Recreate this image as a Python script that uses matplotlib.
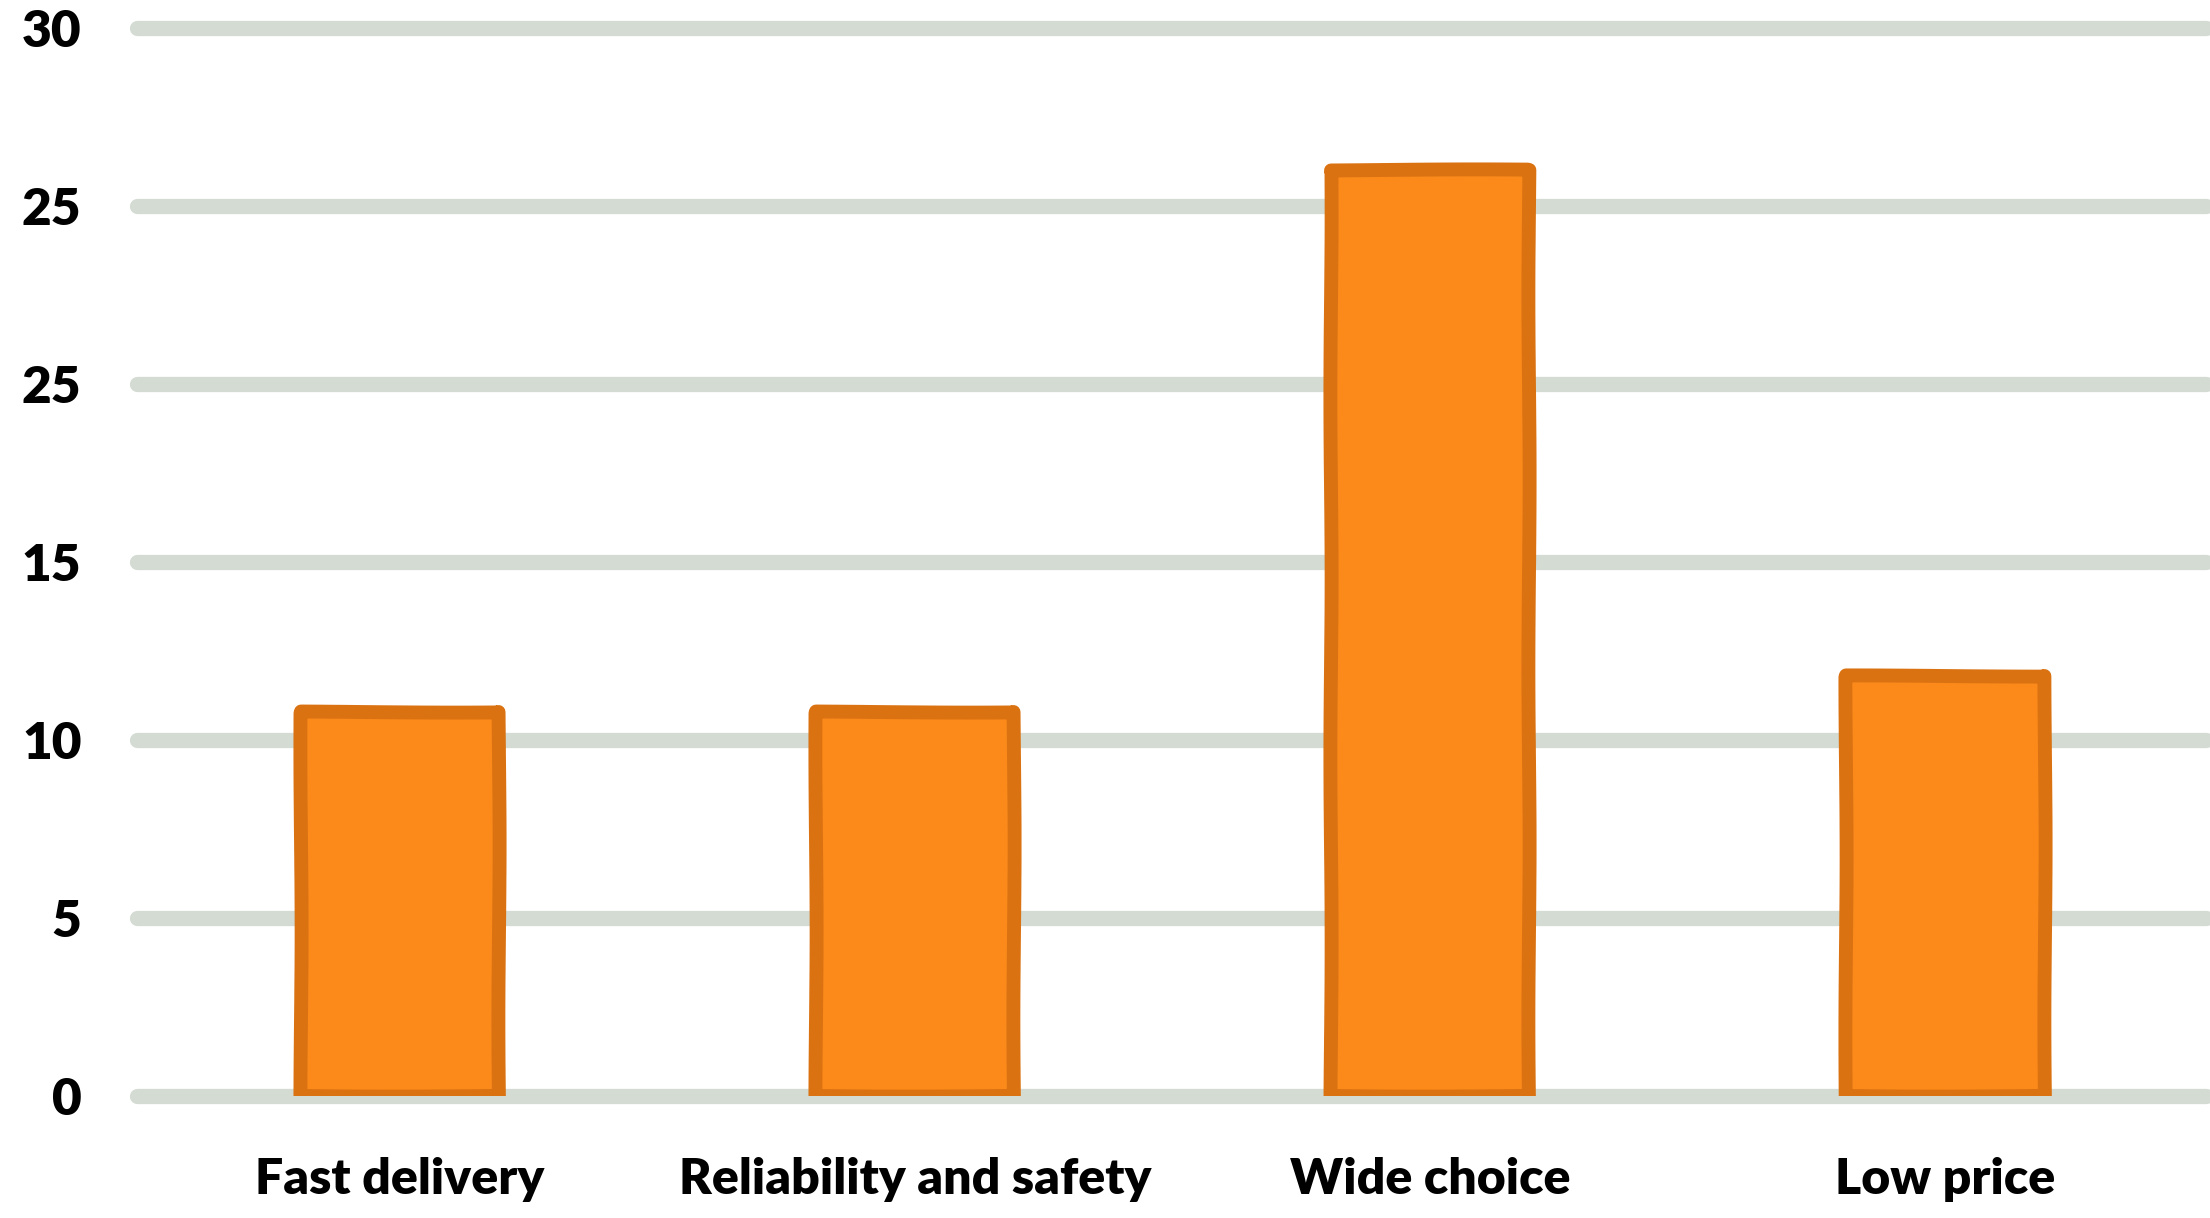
"""
Hand-drawn style bar chart: what matters most to customers.
"""

import matplotlib
matplotlib.use("Agg")
import matplotlib.pyplot as plt
import numpy as np

# ---------------------------------------------------------------------------
# Data
# ---------------------------------------------------------------------------

CATEGORIES = ["Fast delivery", "Reliability and safety", "Wide choice", "Low price"]
VALUES = [10.8, 10.8, 26.0, 11.8]

YTICKS = [0, 5, 10, 15, 20, 25, 30]
YTICK_LABELS = ["0", "5", "10", "15", "25", "25", "30"]   # as drawn in the source

# ---------------------------------------------------------------------------
# Style
# ---------------------------------------------------------------------------

FILL = "#FB8A1B"
EDGE = "#DA7212"
GRID = "#D3DBD3"

plt.rcParams["font.family"] = ["Lato", "DejaVu Sans"]

fig = plt.figure(figsize=(22.1, 12.18), dpi=100)
ax = fig.add_axes([0.062, 0.100, 0.936, 0.877])

x = np.arange(len(CATEGORIES))

ax.set_xlim(-0.51, 3.505)
ax.set_ylim(0, 30)

# thick rounded gridlines
for yv in YTICKS:
    ax.plot([-0.51, 3.505], [yv, yv], color=GRID, lw=11,
            solid_capstyle="round", zorder=1, clip_on=False)

bars = ax.bar(x, VALUES, width=0.385, color=FILL, edgecolor=EDGE,
              linewidth=10, zorder=3, joinstyle="round")
for b in bars:
    b.set_sketch_params(scale=0.6, length=400, randomness=2)

ax.set_xticks(x)
ax.set_xticklabels(CATEGORIES, fontsize=36, fontweight="heavy")
ax.set_yticks(YTICKS)
ax.set_yticklabels(YTICK_LABELS, fontsize=37, fontweight="heavy")
ax.tick_params(length=0)
ax.tick_params(axis="x", pad=44)
ax.tick_params(axis="y", pad=40)

for s in ax.spines.values():
    s.set_visible(False)

fig.savefig("out.png", dpi=100, facecolor="white")
